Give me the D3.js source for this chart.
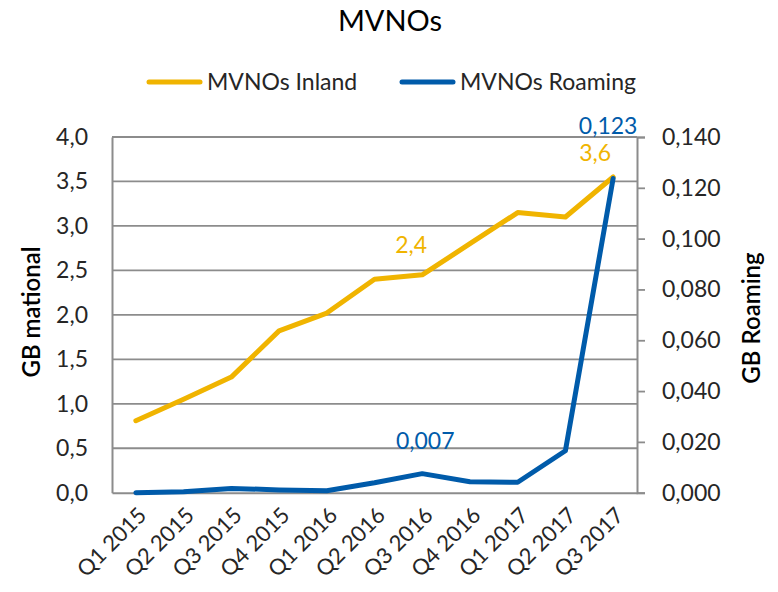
<!DOCTYPE html>
<html><head><meta charset="utf-8">
<script src="https://cdn.jsdelivr.net/npm/d3@7"></script>
<style>body{margin:0;background:#fff;} svg{display:block;font-family:Lato,"Open Sans",sans-serif;}</style>
</head><body>
<svg id="c" width="778" height="592"></svg>
<script>
const categories = ["Q1 2015","Q2 2015","Q3 2015","Q4 2015","Q1 2016","Q2 2016","Q3 2016","Q4 2016","Q1 2017","Q2 2017","Q3 2017"];
const inland = [0.81,1.05,1.30,1.82,2.02,2.40,2.45,2.80,3.15,3.10,3.55];
const roaming = [0.0000,0.0004,0.0017,0.0011,0.0008,0.0039,0.0075,0.0043,0.0041,0.0165,0.1237];
const leftTicks = [0,0.5,1,1.5,2,2.5,3,3.5,4];
const rightTicks = [0,0.02,0.04,0.06,0.08,0.1,0.12,0.14];
const seriesNames = ["MVNOs Inland","MVNOs Roaming"];
const labelsInland = [{i:6,text:"2,4",dx:-11,dy:-22},{i:10,text:"3,6",dx:-18,dy:-16}];
const labelsRoaming = [{i:6,text:"0,007",dx:3,dy:-25},{i:10,text:"0,123",dx:-5,dy:-44}];

const YEL = "#F0B400", BLU = "#005BAA", GRID = "#8c8c8c", TXT = "#262626";
const FW = 400;
const svg = d3.select("#c");
const L = 112, R = 637, T = 137, B = 492.7;
const x = d3.scaleBand().domain(categories).range([L,R]);
const xc = d => x(d) + x.bandwidth()/2;
const yL = d3.scaleLinear().domain([0,4]).range([B,T]);
const yR = d3.scaleLinear().domain([0,0.14]).range([B,T]);
const fmt1 = v => d3.format(".1f")(v).replace(".",",");
const fmt3 = v => d3.format(".3f")(v).replace(".",",");

// gridlines
svg.append("g").selectAll("line").data(leftTicks.slice(1)).join("line")
  .attr("x1",L).attr("x2",R).attr("y1",d=>yL(d)).attr("y2",d=>yL(d))
  .attr("stroke",GRID).attr("stroke-width",1.8);

// left axis
const gl = svg.append("g").attr("transform",`translate(${L},0)`)
  .call(d3.axisLeft(yL).tickValues(leftTicks).tickFormat(fmt1).tickSize(0).tickPadding(24));
gl.select(".domain").attr("stroke",GRID).attr("stroke-width",2);
gl.selectAll("text").attr("font-size",23).attr("fill",TXT).attr("font-family","Lato").attr("font-weight",FW);

// right axis
const gr = svg.append("g").attr("transform",`translate(${R},0)`)
  .call(d3.axisRight(yR).tickValues(rightTicks).tickFormat(fmt3).tickSize(8).tickPadding(17));
gr.select(".domain").attr("stroke",GRID).attr("stroke-width",2);
gr.selectAll("line").attr("stroke",GRID).attr("stroke-width",1.8);
gr.selectAll("text").attr("font-size",23).attr("fill",TXT).attr("font-family","Lato").attr("font-weight",FW);

// bottom axis
const gb = svg.append("g").attr("transform",`translate(0,${B})`)
  .call(d3.axisBottom(x).tickSize(0).tickPadding(0));
gb.select(".domain").attr("stroke",GRID).attr("stroke-width",2);
gb.selectAll("text").attr("font-size",22).attr("fill",TXT).attr("font-family","Lato").attr("font-weight",FW)
  .attr("text-anchor","end").attr("dy",0)
  .attr("transform","translate(12,24) rotate(-45)");

// lines
const lineL = d3.line().x((d,i)=>xc(categories[i])).y(d=>yL(d));
const lineR = d3.line().x((d,i)=>xc(categories[i])).y(d=>yR(d));
svg.append("path").datum(inland).attr("d",lineL).attr("fill","none")
  .attr("stroke",YEL).attr("stroke-width",5).attr("stroke-linejoin","round").attr("stroke-linecap","round");
svg.append("path").datum(roaming).attr("d",lineR).attr("fill","none")
  .attr("stroke",BLU).attr("stroke-width",5).attr("stroke-linejoin","round").attr("stroke-linecap","round");

// data labels
svg.append("g").selectAll("text").data(labelsInland).join("text")
  .attr("x",d=>xc(categories[d.i])+d.dx).attr("y",d=>yL(inland[d.i])+d.dy)
  .attr("text-anchor","middle").attr("font-size",23).attr("font-weight",FW).attr("fill",YEL).text(d=>d.text);
svg.append("g").selectAll("text").data(labelsRoaming).join("text")
  .attr("x",d=>xc(categories[d.i])+d.dx).attr("y",d=>yR(roaming[d.i])+d.dy)
  .attr("text-anchor","middle").attr("font-size",23).attr("font-weight",FW).attr("fill",BLU).text(d=>d.text);

// title
svg.append("text").attr("x",390).attr("y",31).attr("text-anchor","middle")
  .attr("font-size",29).attr("fill","#000").text("MVNOs");

// legend
const leg = [{name:seriesNames[0],c:YEL,x:147},{name:seriesNames[1],c:BLU,x:400}];
const lg = svg.append("g").selectAll("g").data(leg).join("g").attr("transform",d=>`translate(${d.x},82)`);
lg.append("line").attr("x1",2).attr("x2",53).attr("stroke",d=>d.c).attr("stroke-width",5).attr("stroke-linecap","round");
lg.append("text").attr("x",60).attr("y",8).attr("font-size",23).attr("font-weight",FW).attr("fill",TXT).text(d=>d.name);

// axis titles
svg.append("text").attr("transform","translate(40,312) rotate(-90)").attr("text-anchor","middle")
  .attr("font-size",24).attr("font-weight",600).attr("fill","#000").text("GB mational");
svg.append("text").attr("transform","translate(760,318) rotate(-90)").attr("text-anchor","middle")
  .attr("font-size",24).attr("font-weight",600).attr("fill","#000").text("GB Roaming");
</script>
</body></html>
